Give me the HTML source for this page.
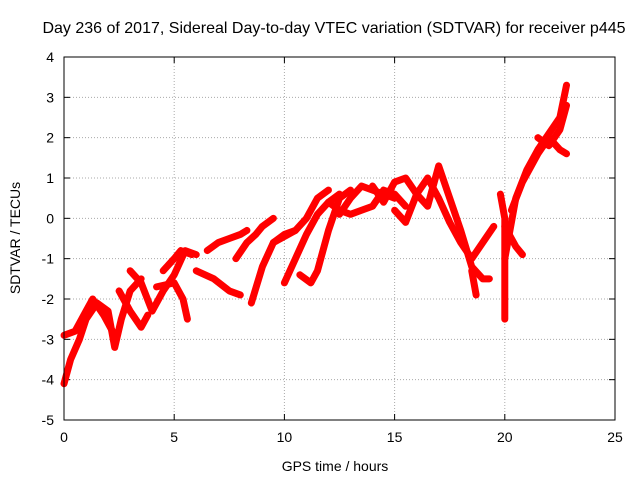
<!DOCTYPE html>
<html><head><meta charset="utf-8"><style>
body{margin:0;background:#fff;font-family:"Liberation Sans",sans-serif}
svg text{font-family:"Liberation Sans",sans-serif;font-size:14px;fill:#000}
</style></head><body>
<svg id="c" width="640" height="480" xmlns="http://www.w3.org/2000/svg">
<text x="334" y="33" text-anchor="middle" style="font-size:16px">Day 236 of 2017, Sidereal Day-to-day VTEC variation (SDTVAR) for receiver p445</text>
<text x="335" y="471" text-anchor="middle">GPS time / hours</text>
<text transform="translate(20,238) rotate(-90)" text-anchor="middle">SDTVAR / TECUs</text>
<g id="grid"></g><g id="marks"></g>
<rect x="64" y="57" width="551" height="363" fill="none" stroke="#000"/>
</svg>
<script>
const xTicks=[0,5,10,15,20,25];
const yTicks=[-5,-4,-3,-2,-1,0,1,2,3,4];
const tracks=[
[[0,-4.1],[0.3,-3.5],[0.7,-3],[1,-2.5],[1.5,-2.1],[2,-2.3],[2.3,-3.2],[2.6,-2.5],[3,-1.8],[3.5,-1.5]],
[[0,-2.9],[0.5,-2.8],[1,-2.3],[1.3,-2],[1.8,-2.4],[2.2,-2.8]],
[[2.5,-1.8],[3,-2.3],[3.5,-2.7],[3.8,-2.4]],
[[3,-1.3],[3.5,-1.6],[4,-2.3],[4.5,-1.8],[5,-1.4],[5.5,-0.8],[6,-0.9]],
[[4.5,-1.3],[5,-1],[5.3,-0.8],[5.8,-0.9]],
[[4.2,-1.7],[5,-1.6],[5.4,-2],[5.6,-2.5]],
[[6,-1.3],[6.8,-1.5],[7.5,-1.8],[8,-1.9]],
[[6.5,-0.8],[7,-0.6],[7.5,-0.5],[8,-0.4],[8.3,-0.3]],
[[7.8,-1],[8.3,-0.6],[8.7,-0.4],[9,-0.2],[9.5,0]],
[[8.5,-2.1],[9,-1.2],[9.5,-0.6],[10,-0.4],[10.5,-0.3]],
[[9.5,-0.6],[10.5,-0.3],[11,0],[11.5,0.5],[12,0.7]],
[[10,-1.6],[10.5,-1],[11,-0.4],[11.5,0.1],[12,0.4],[12.5,0.6]],
[[10.7,-1.4],[11.2,-1.6],[11.5,-1.3],[12,-0.3],[12.5,0.5],[13,0.7]],
[[12.5,0.1],[13,0.5],[13.5,0.8],[14,0.7],[14.5,0.6],[15,0.5]],
[[12,0.4],[12.5,0.2],[13,0.1],[13.5,0.2],[14,0.3],[14.5,0.7],[15,0.6],[15.5,0.3]],
[[14,0.8],[14.5,0.4],[15,0.9],[15.5,1],[16,0.6],[16.5,0.3],[17,1.3],[17.5,0.5],[18,-0.3],[18.5,-1.2],[19,-1.5],[19.3,-1.5]],
[[15,0.2],[15.5,-0.1],[16,0.6],[16.5,1],[17,0.5],[17.5,-0.1],[18,-0.6],[18.5,-1],[19,-0.6],[19.5,-0.2]],
[[18.5,-1.3],[18.7,-1.9]],
[[19.8,0.6],[20,0],[20,-2.5]],
[[20,-0.2],[20.3,-0.5],[20.5,-0.7],[20.8,-0.9]],
[[20,-1],[20.5,0.5],[21,1.2],[21.5,1.7],[22,2.1],[22.5,2.5],[22.8,3.3]],
[[20.3,0.2],[20.8,0.9],[21.5,1.6],[22,2],[22.5,1.7],[22.8,1.6]],
[[21.5,2],[22,1.8],[22.5,2.2],[22.8,2.8]]
];
const X=t=>64+t*551/25, Y=v=>57+(4-v)*363/9;
const NS="http://www.w3.org/2000/svg";
const g=document.getElementById('grid'), m=document.getElementById('marks');
function el(n,a,p){const e=document.createElementNS(NS,n);for(const k in a)e.setAttribute(k,a[k]);p.appendChild(e);return e;}
xTicks.forEach(t=>{const x=X(t);
 if(t>0&&t<25){const l=el('line',{x1:x,x2:x,y1:57,y2:420,stroke:'#aaa','stroke-dasharray':'1,2'},g);
 
 }
 el('line',{x1:x,x2:x,y1:420,y2:414,stroke:'#000'},g);el('line',{x1:x,x2:x,y1:57,y2:63,stroke:'#000'},g);
 const tx=el('text',{x:x,y:442,'text-anchor':'middle'},g);tx.textContent=t;
 
 });
yTicks.forEach(v=>{const y=Y(v);
 if(v>-5&&v<4){const l=el('line',{x1:64,x2:615,y1:y,y2:y,stroke:'#aaa','stroke-dasharray':'1,2'},g);
 
 }
 el('line',{x1:64,x2:70,y1:y,y2:y,stroke:'#000'},g);el('line',{x1:609,x2:615,y1:y,y2:y,stroke:'#000'},g);
 const tx=el('text',{x:54,y:y+5,'text-anchor':'end'},g);tx.textContent=v;
 
 });
tracks.forEach(tr=>{
 const p=el('polyline',{points:tr.map(d=>X(d[0])+','+Y(d[1])).join(' '),fill:'none',stroke:'#f00','stroke-width':7,'stroke-linejoin':'round','stroke-linecap':'round'},m);
 
 
});
</script>
</body></html>
